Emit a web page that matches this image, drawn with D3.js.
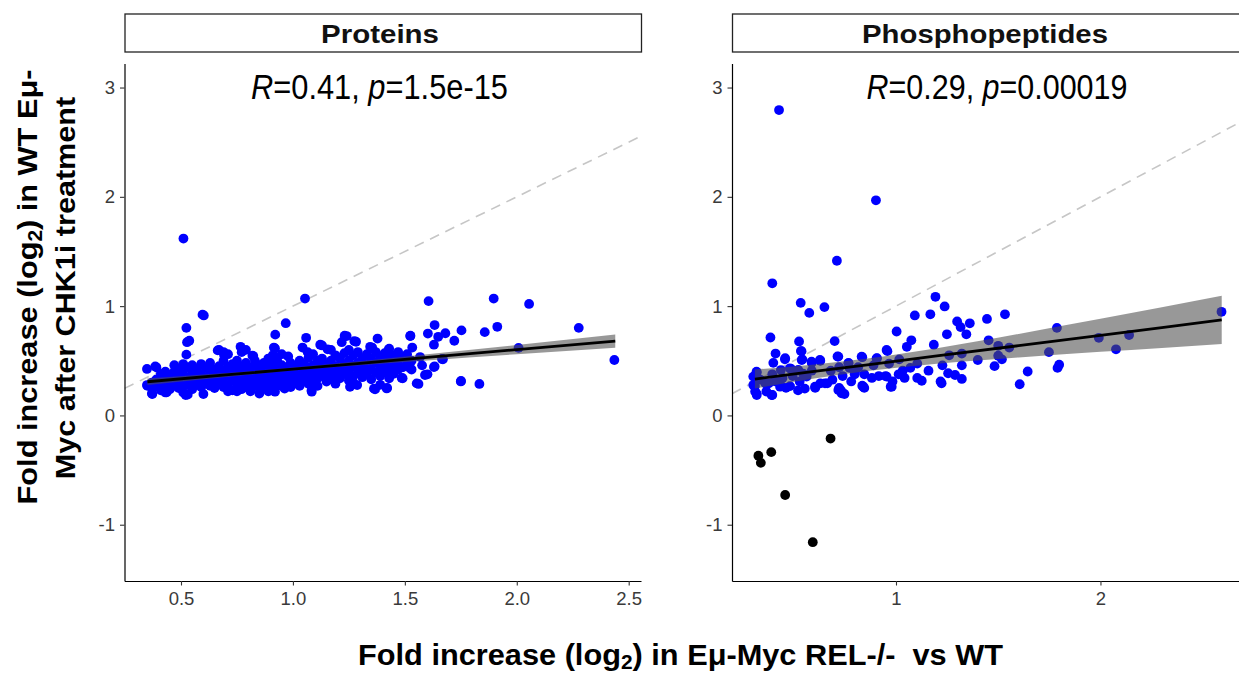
<!DOCTYPE html>
<html><head><meta charset="utf-8">
<script src="https://cdn.jsdelivr.net/npm/d3@7"></script>
<style>body{margin:0;background:#fff;} svg{display:block;font-family:"Liberation Sans",Arial,Helvetica,sans-serif;}</style>
</head><body>
<svg id="chart" width="1239" height="675"></svg>
<script>
// ---------------- DATA ----------------
const panelNames = ["Proteins", "Phosphopeptides"];
const statR = ["0.41", "0.29"];
const statP = ["1.5e-15", "0.00019"];
const yTicks = [-1, 0, 1, 2, 3];
const protXTicks = [0.5, 1.0, 1.5, 2.0, 2.5];
const phosXTicks = [1, 2];
const yDomain = [-1.515, 3.219];
const protXDomain = [0.2476, 2.555];
const phosXDomain = [0.198, 2.724];

const protPoints = [
[0.511,1.618],[1.054,1.069],[0.596,0.922],[0.602,0.915],[0.524,0.801],[0.968,0.844],[0.921,0.739],[1.606,1.046],
[1.897,1.069],[2.055,1.020],[2.277,0.801],[1.913,0.811],[1.857,0.762],[1.633,0.827],[1.603,0.749],[1.753,0.778],
[1.681,0.752],[1.649,0.719],[1.721,0.683],[1.63,0.647],[2.008,0.618],[2.436,0.507],[1.75,0.311],[1.833,0.288],
[1.67,0.514],[1.633,0.448],[1.577,0.458],[1.601,0.376],[1.561,0.288],[1.525,0.729],[1.533,0.621],[1.378,0.703],
[1.354,0.621],[1.274,0.68],[1.231,0.729],[1.218,0.67],[1.122,0.647],[1.059,0.71],[1.043,0.621],[0.915,0.621],
[0.766,0.628],[0.771,0.579],[0.664,0.595],[0.692,0.556],[0.819,0.546],[0.527,0.67],[0.537,0.683],[0.524,0.556],
[1.155,0.605],[1.066,0.579],[0.979,0.539],[1.362,0.245],[1.421,0.252],[1.255,0.262],[1.287,0.278],[1.083,0.229],
[0.963,0.245],[0.372,0.196],[0.6,0.196],[0.521,0.187],[0.436,0.212],[0.348,0.425],[0.385,0.448],[0.348,0.278],
[1.486,0.343],[1.568,0.534],[1.666,0.516],[1.523,0.434],[1.63,0.443],[1.59,0.37],[1.751,0.315],[1.24,0.726],
[1.282,0.674],[1.524,0.726],[1.427,0.598],[1.345,0.628],[0.92,0.613],[1.367,0.238],[1.419,0.247],[1.553,0.293],
[1.084,0.217],[0.92,0.217],[0.915,0.537],[0.823,0.543],[0.697,0.561],
[0.35,0.27],
[0.37,0.20],[0.37,0.25],[0.37,0.30],
[0.39,0.44],[0.39,0.33],[0.39,0.27],
[0.41,0.38],[0.41,0.30],[0.41,0.23],
[0.43,0.40],[0.43,0.34],[0.43,0.27],[0.43,0.21],
[0.45,0.36],[0.45,0.31],[0.45,0.24],
[0.47,0.46],[0.47,0.40],[0.47,0.33],[0.47,0.27],
[0.49,0.42],[0.49,0.36],[0.49,0.30],[0.49,0.25],
[0.51,0.47],[0.51,0.38],[0.51,0.32],[0.51,0.27],[0.51,0.21],
[0.53,0.44],[0.53,0.34],[0.53,0.28],[0.53,0.19],
[0.55,0.46],[0.55,0.40],[0.55,0.30],[0.55,0.24],
[0.57,0.42],[0.57,0.36],[0.57,0.28],
[0.59,0.47],[0.59,0.38],[0.59,0.32],[0.59,0.26],
[0.61,0.44],[0.61,0.35],[0.61,0.29],
[0.63,0.48],[0.63,0.40],[0.63,0.33],[0.63,0.27],
[0.65,0.42],[0.65,0.36],[0.65,0.30],[0.65,0.25],
[0.67,0.60],[0.67,0.45],[0.67,0.38],[0.67,0.31],
[0.69,0.58],[0.69,0.50],[0.69,0.41],[0.69,0.34],[0.69,0.26],
[0.71,0.56],[0.71,0.44],[0.71,0.37],[0.71,0.28],[0.71,0.22],
[0.73,0.47],[0.73,0.40],[0.73,0.32],[0.73,0.23],
[0.75,0.50],[0.75,0.42],[0.75,0.35],[0.75,0.28],[0.75,0.22],
[0.77,0.45],[0.77,0.38],[0.77,0.30],[0.77,0.24],
[0.79,0.60],[0.79,0.48],[0.79,0.40],[0.79,0.33],[0.79,0.26],
[0.81,0.44],[0.81,0.36],[0.81,0.29],[0.81,0.22],
[0.83,0.50],[0.83,0.42],[0.83,0.34],[0.83,0.27],
[0.85,0.46],[0.85,0.38],[0.85,0.31],[0.85,0.25],[0.85,0.20],
[0.87,0.48],[0.87,0.40],[0.87,0.33],[0.87,0.26],
[0.89,0.52],[0.89,0.43],[0.89,0.36],[0.89,0.29],[0.89,0.22],
[0.91,0.55],[0.91,0.47],[0.91,0.39],[0.91,0.31],[0.91,0.24],
[0.93,0.50],[0.93,0.42],[0.93,0.34],[0.93,0.27],
[0.95,0.56],[0.95,0.46],[0.95,0.38],[0.95,0.30],
[0.97,0.44],[0.97,0.36],[0.97,0.28],
[0.99,0.48],[0.99,0.40],[0.99,0.33],[0.99,0.26],
[1.01,0.45],[1.01,0.37],[1.01,0.30],
[1.03,0.50],[1.03,0.42],[1.03,0.34],[1.03,0.27],
[1.05,0.47],[1.05,0.39],[1.05,0.31],
[1.07,0.53],[1.07,0.44],[1.07,0.36],[1.07,0.29],
[1.09,0.56],[1.09,0.46],[1.09,0.38],[1.09,0.30],
[1.11,0.50],[1.11,0.42],[1.11,0.34],[1.11,0.27],
[1.13,0.64],[1.13,0.52],[1.13,0.44],[1.13,0.36],
[1.15,0.47],[1.15,0.39],[1.15,0.31],
[1.17,0.60],[1.17,0.50],[1.17,0.41],[1.17,0.33],
[1.19,0.55],[1.19,0.45],[1.19,0.37],[1.19,0.29],
[1.21,0.52],[1.21,0.43],[1.21,0.34],
[1.23,0.57],[1.23,0.47],[1.23,0.38],
[1.25,0.60],[1.25,0.50],[1.25,0.41],[1.25,0.32],
[1.27,0.55],[1.27,0.45],[1.27,0.36],[1.27,0.30],
[1.29,0.58],[1.29,0.48],[1.29,0.39],
[1.31,0.52],[1.31,0.43],[1.31,0.35],
[1.33,0.56],[1.33,0.46],[1.33,0.38],
[1.35,0.52],[1.35,0.42],[1.35,0.33],
[1.37,0.58],[1.37,0.48],[1.37,0.39],
[1.39,0.54],[1.39,0.45],[1.39,0.36],[1.39,0.28],
[1.41,0.57],[1.41,0.48],[1.41,0.40],
[1.43,0.61],[1.43,0.52],[1.43,0.43],[1.43,0.34],
[1.45,0.55],[1.45,0.46],[1.45,0.38],
[1.47,0.58],[1.47,0.50],[1.47,0.42],
[1.49,0.53],[1.49,0.44],[1.49,0.34],
[1.51,0.56],[1.51,0.47],
[1.53,0.50],[1.53,0.42]
];

const phosPoints = [
[0.428,2.794],[0.902,1.968],[0.711,1.415],[0.395,1.209],[0.534,1.03],[0.576,0.938],[0.65,0.991],[1.193,1.085],
[1.238,0.997],[1.092,0.915],[1.168,0.925],[1.299,0.86],[1.316,0.808],[1.361,0.843],[1.445,0.883],[1.533,0.925],
[0.386,0.713],[0.526,0.677],[0.7,0.68],[0.411,0.566],[0.538,0.588],[0.458,0.523],[0.4,0.481],[0.542,0.513],
[0.63,0.5],[0.588,0.481],[0.714,0.539],[0.722,0.441],[0.768,0.481],[0.835,0.533],[0.907,0.523],[0.958,0.588],
[1.003,0.768],[1.016,0.513],[1.053,0.628],[1.075,0.687],[1.185,0.647],[1.249,0.742],[1.344,0.742],[1.26,0.55],
[1.322,0.566],[1.453,0.687],[1.5,0.637],[1.554,0.621],[1.5,0.546],[1.4,0.507],[1.518,0.513],[1.322,0.458],
[1.227,0.458],[1.104,0.474],[1.07,0.435],[1.159,0.409],[1.482,0.451],[1.644,0.402],[1.605,0.285],[1.748,0.579],
[1.787,0.801],[1.79,0.435],[1.798,0.464],[1.992,0.71],[2.076,0.605],[2.14,0.736],[2.592,0.948],[1.218,0.311],
[1.223,0.294],[1.289,0.37],[1.322,0.334],[1.255,0.386],[1.104,0.343],[1.126,0.317],[1.042,0.343],[1.013,0.376],
[0.983,0.311],[0.974,0.262],[0.949,0.36],[0.916,0.36],[0.882,0.343],[0.845,0.376],[0.835,0.272],[0.845,0.252],
[0.798,0.376],[0.781,0.311],[0.731,0.229],[0.748,0.196],[0.722,0.252],[0.689,0.327],[0.664,0.294],[0.63,0.294],
[0.605,0.252],[0.554,0.245],[0.521,0.229],[0.529,0.311],[0.482,0.268],[0.462,0.252],[0.437,0.272],[0.445,0.343],
[0.495,0.36],[0.546,0.382],[0.588,0.409],[0.487,0.425],[0.437,0.415],[0.395,0.376],[0.378,0.294],[0.395,0.187],
[0.366,0.219],[0.319,0.187],[0.311,0.219],[0.302,0.278],[0.319,0.392],[0.336,0.327],[0.361,0.294],[0.411,0.311],
[0.681,0.409],[0.739,0.36],[0.773,0.435],[0.815,0.441],[0.89,0.458],[0.966,0.474],[1.033,0.409],
[0.535,0.589],[0.539,0.507],[0.457,0.513],[0.318,0.4],[0.302,0.355],[0.31,0.269],[0.318,0.202],[0.392,0.187],
[0.433,0.263],[0.481,0.431],[0.522,0.416],[0.563,0.355],[0.587,0.492],[0.628,0.507],[0.604,0.263],[0.653,0.294],
[0.718,0.538],[0.718,0.233],[0.734,0.202],[0.767,0.477],[0.8,0.4],[0.832,0.538],[0.84,0.263],[0.905,0.522],
[0.954,0.599],[0.954,0.355],[0.979,0.263],
[0.327,-0.369],[0.339,-0.434],[0.39,-0.336],[0.68,-0.212],[0.458,-0.728],[0.593,-1.16]
];

// fitted regression line and its confidence band
const protFitX  = [0.35, 0.7, 1.0, 1.3, 1.6, 2.0, 2.44];
const protFitY  = [0.308, 0.370, 0.424, 0.477, 0.531, 0.602, 0.680];
const protFitLo = [0.278, 0.352, 0.410, 0.459, 0.503, 0.560, 0.620];
const protFitHi = [0.338, 0.388, 0.438, 0.495, 0.559, 0.644, 0.740];
const phosFitX  = [0.31, 0.6, 0.85, 1.2, 1.6, 2.0, 2.3, 2.593];
const phosFitY  = [0.333, 0.402, 0.461, 0.544, 0.638, 0.733, 0.804, 0.874];
const phosFitLo = [0.246, 0.338, 0.404, 0.473, 0.530, 0.582, 0.618, 0.654];
const phosFitHi = [0.420, 0.467, 0.518, 0.615, 0.746, 0.884, 0.990, 1.094];

// ---------------- LAYOUT ----------------
const svg = d3.select("#chart");
const panelTop = 63.6, panelW = 516.5, panelH = 517.4;
const panelLefts = [124.5, 732];
const stripTop = 14, stripBottom = 52;

const panelsCfg = [
  {name: panelNames[0], left: panelLefts[0], xDomain: protXDomain, xTicks: protXTicks, fmt: d3.format(".1f"),
   pts: protPoints, fx: protFitX, fy: protFitY, flo: protFitLo, fhi: protFitHi,
   r: statR[0], p: statP[0], labCx: 255, labW: 257, stripCx: 255.5, stripW: 118},
  {name: panelNames[1], left: panelLefts[1], xDomain: phosXDomain, xTicks: phosXTicks, fmt: d3.format("d"),
   pts: phosPoints, fx: phosFitX, fy: phosFitY, flo: phosFitLo, fhi: phosFitHi,
   r: statR[1], p: statP[1], labCx: 265, labW: 261, stripCx: 253, stripW: 246}
];

function fitWidth(t, w) {
  const bw = t.node().getBBox().width;
  if (bw > 0) t.attr("transform", `scale(${w / bw},1)`);
}

const y = d3.scaleLinear().domain(yDomain).range([panelH, 0]);

panelsCfg.forEach((cfg, i) => {
  const x = d3.scaleLinear().domain(cfg.xDomain).range([0, panelW]);
  const g = svg.append("g").attr("transform", `translate(${cfg.left},${panelTop})`);

  const clipId = "clip" + i;
  svg.append("defs").append("clipPath").attr("id", clipId)
    .append("rect").attr("x", 0).attr("y", 0).attr("width", panelW).attr("height", panelH);
  const plot = g.append("g").attr("clip-path", `url(#${clipId})`);

  // identity dashed line y = x
  const dom = cfg.xDomain;
  plot.append("line")
    .attr("x1", x(dom[0])).attr("y1", y(dom[0]))
    .attr("x2", x(dom[1])).attr("y2", y(dom[1]))
    .attr("stroke", "#c6c6c6").attr("stroke-width", 1.6).attr("stroke-dasharray", "10,7");

  // points
  plot.selectAll("circle").data(cfg.pts).join("circle")
    .attr("cx", d => x(d[0])).attr("cy", d => y(d[1])).attr("r", 4.9)
    .attr("fill", d => d[1] < 0 ? "#000000" : "#0000ff");

  // confidence band
  const bandData = cfg.fx.map((v, k) => ({x: v, lo: cfg.flo[k], hi: cfg.fhi[k]}));
  plot.append("path").datum(bandData)
    .attr("d", d3.area().x(d => x(d.x)).y0(d => y(d.lo)).y1(d => y(d.hi)).curve(d3.curveMonotoneX))
    .attr("fill", "#4d4d4d").attr("fill-opacity", 0.58);

  // fit line
  const lineData = cfg.fx.map((v, k) => ({x: v, y: cfg.fy[k]}));
  plot.append("path").datum(lineData)
    .attr("d", d3.line().x(d => x(d.x)).y(d => y(d.y)))
    .attr("fill", "none").attr("stroke", "#000").attr("stroke-width", 2.8);

  // axes
  const ya = g.append("g").call(d3.axisLeft(y).tickValues(yTicks).tickFormat(d => String(d))
      .tickSize(4.5).tickSizeOuter(0).tickPadding(5));
  const xa = g.append("g").attr("transform", `translate(0,${panelH})`)
    .call(d3.axisBottom(x).tickValues(cfg.xTicks).tickFormat(cfg.fmt).tickSize(4.5).tickSizeOuter(0).tickPadding(6));
  [ya, xa].forEach(a => {
    a.select(".domain").attr("stroke", "#000").attr("stroke-width", 1.2);
    a.selectAll(".tick line").attr("stroke", "#333").attr("stroke-width", 1.1);
    a.selectAll(".tick text").attr("fill", "#3a3a3a").attr("font-size", "18.5px")
      .attr("font-family", '"Liberation Sans",Arial,sans-serif');
  });

  // correlation annotation
  const lab = g.append("g").attr("transform", `translate(${cfg.labCx},${99 - panelTop})`)
    .append("text").attr("text-anchor", "middle").attr("font-size", "35px").attr("fill", "#000");
  lab.append("tspan").attr("font-style", "italic").text("R");
  lab.append("tspan").text("=" + cfg.r + ", ");
  lab.append("tspan").attr("font-style", "italic").text("p");
  lab.append("tspan").text("=" + cfg.p);
  fitWidth(lab, cfg.labW);

  // strip
  svg.append("rect").attr("x", cfg.left + 0.5).attr("y", stripTop)
    .attr("width", panelW).attr("height", stripBottom - stripTop)
    .attr("fill", "#fff").attr("stroke", "#222").attr("stroke-width", 1.3);
  const st = svg.append("g").attr("transform", `translate(${cfg.left + cfg.stripCx},43.3)`)
    .append("text").attr("text-anchor", "middle").attr("font-size", "25px").attr("font-weight", "bold")
    .attr("fill", "#111").text(cfg.name);
  fitWidth(st, cfg.stripW);
});

// axis titles
function sub(t, pre, post, shift) {
  t.append("tspan").text(pre);
  t.append("tspan").attr("font-size", "0.68em").attr("dy", shift).text("2");
  t.append("tspan").attr("dy", -shift).text(post);
}
const xt = svg.append("g").attr("transform", "translate(680.5,665)")
  .append("text").attr("text-anchor", "middle").attr("font-size", "30px").attr("font-weight", "bold")
  .attr("fill", "#000").style("white-space", "pre");
sub(xt, "Fold increase (log", ") in Eμ-Myc REL-/-  vs WT", 4);
fitWidth(xt, 645);

const yt1 = svg.append("g").attr("transform", "translate(37,287) rotate(-90)")
  .append("text").attr("text-anchor", "middle").attr("font-size", "28.5px").attr("font-weight", "bold")
  .attr("fill", "#000");
sub(yt1, "Fold increase (log", ") in WT Eμ-", 5);
fitWidth(yt1, 435);
const yt2 = svg.append("g").attr("transform", "translate(75,288) rotate(-90)")
  .append("text").attr("text-anchor", "middle").attr("font-size", "28.5px").attr("font-weight", "bold")
  .attr("fill", "#000").text("Myc after CHK1i treatment");
fitWidth(yt2, 383);
</script>
</body></html>
